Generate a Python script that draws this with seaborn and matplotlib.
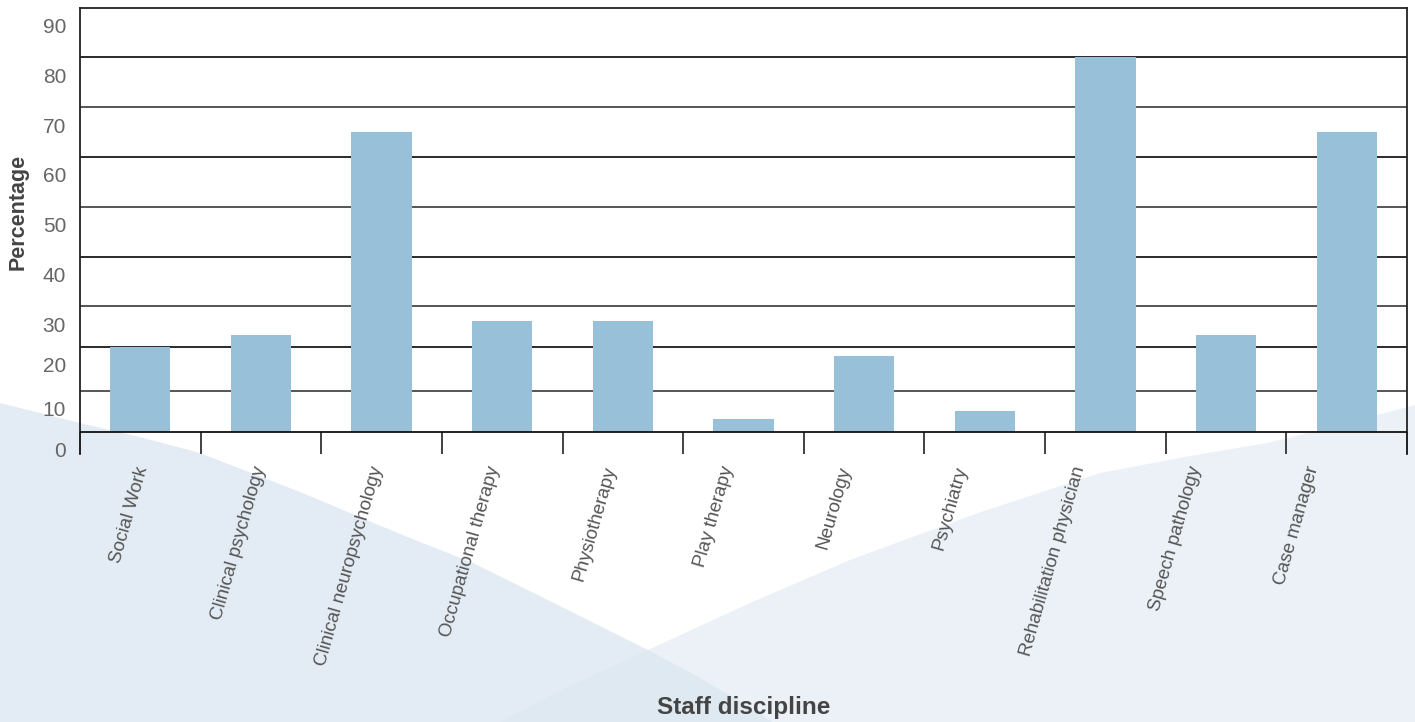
import numpy as np
import matplotlib
matplotlib.use("Agg")
import matplotlib.pyplot as plt
import seaborn as sns
from matplotlib.patches import Polygon
from matplotlib.transforms import ScaledTranslation

# ---- data ----
categories = ["Social Work", "Clinical psychology", "Clinical neuropsychology",
              "Occupational therapy", "Physiotherapy", "Play therapy", "Neurology",
              "Psychiatry", "Rehabilitation physician", "Speech pathology", "Case manager"]
percentages = [20, 23, 65, 26.5, 26.5, 3, 18, 5, 80, 23, 65]
y_ticks = [0, 10, 20, 30, 40, 50, 60, 70, 80, 90]
y_tick_labels = ["0", "10", "20", "30", "40", "50", "60", "70", "80", "90"]
# pixel heights of gridlines above baseline in the original (uneven axis)
grid_heights = [0, 40.8, 84.6, 125.2, 174.8, 224.8, 274.8, 324.2, 374.2, 424.0]

sns.set_theme(style="white")
plt.rcParams["font.family"] = ["Liberation Sans", "DejaVu Sans"]

W, H = 1415, 722
fig = plt.figure(figsize=(W / 100, H / 100), dpi=100)
fig.patch.set_facecolor("white")

# decorative background shapes (figure pixel coords)
left_shape = [(0, 403), (80, 423), (140, 437), (200, 453), (300, 492), (400, 534),
              (473, 563), (560, 606), (648, 650), (700, 678), (750, 707), (772, 722), (0, 722)]
right_shape = [(500, 722), (570, 686), (648, 650), (750, 603), (850, 560), (975, 514),
               (1100, 473), (1190, 456), (1267, 443), (1340, 425), (1415, 405), (1415, 722)]
def to_fig(pts):
    return [(x / W, 1 - y / H) for x, y in pts]
fig.patches.append(Polygon(to_fig(left_shape), closed=True, transform=fig.transFigure,
                           facecolor="#e3ecf4", edgecolor="none", zorder=-2))
fig.patches.append(Polygon(to_fig(right_shape), closed=True, transform=fig.transFigure,
                           facecolor="#dbe7f0", alpha=0.55, edgecolor="none", zorder=-1))

ax = fig.add_axes([80 / W, 1 - 454 / H, (1407 - 80) / W, (454 - 7.5) / H])
ax.set_zorder(2)
ax.patch.set_alpha(0)

gv = np.array(y_ticks, dtype=float)
gh = np.array(grid_heights, dtype=float)
slope0 = gh[1] / gv[1]

def fwd(v):
    v = np.asarray(v, dtype=float)
    return np.where(v < 0, v * slope0, np.interp(v, gv, gh))

def inv(h):
    h = np.asarray(h, dtype=float)
    return np.where(h < 0, h / slope0, np.interp(h, gh, gv))

ax.set_yscale("function", functions=(fwd, inv))

sns.barplot(x=categories, y=percentages, color="#98c0d8", saturation=1,
            width=0.5, linewidth=0, edgecolor="none", ax=ax, zorder=3)

ax.set_xlim(-0.5, len(categories) - 0.5)
ax.set_ylim(-5.5, 90)

for i, v in enumerate(y_ticks[1:-1]):
    ax.axhline(v, color="#2a2a2a" if i % 2 else "#555555", lw=1.4, zorder=1)
ax.axhline(0, color="#111111", lw=1.3, zorder=4)

for s in ["left", "right", "top"]:
    ax.spines[s].set_visible(True)
    ax.spines[s].set_color("#222222")
    ax.spines[s].set_linewidth(1.3)
ax.spines["bottom"].set_visible(False)

ax.set_yticks(y_ticks)
ax.set_yticklabels(y_tick_labels)
ax.tick_params(axis="y", length=0, pad=10, labelsize=15, labelcolor="#666666")
for lab in ax.get_yticklabels():
    lab.set_transform(lab.get_transform() + ScaledTranslation(0, -0.18, fig.dpi_scale_trans))

ax.set_xticks(range(len(categories)))
ax.set_xticklabels(categories, rotation=74, ha="right", va="center",
                   rotation_mode="anchor", fontsize=13.5, color="#555555")
ax.tick_params(axis="x", which="major", length=0, pad=9)
for i, lab in enumerate(ax.get_xticklabels()):
    dx = (3.0 - 3.6 * i) / 100.0
    lab.set_transform(lab.get_transform() + ScaledTranslation(dx, 0, fig.dpi_scale_trans))
ax.set_xticks(np.arange(-0.5, len(categories), 1.0), minor=True)
ax.tick_params(axis="x", which="minor", direction="in", length=16, width=1.3,
               color="#333333", bottom=True)

ax.set_xlabel("Staff discipline", fontsize=17.5, fontweight="bold", color="#444444")
ax.xaxis.set_label_coords(0.5, (454 - 696) / 446.5)
ax.set_ylabel("Percentage", fontsize=15.5, fontweight="bold", color="#444444",
              va="center", ha="center")
ax.yaxis.set_label_coords((18 - 80) / 1327, (454 - 212) / 446.5)

fig.savefig("out.png", dpi=100, facecolor="white")
